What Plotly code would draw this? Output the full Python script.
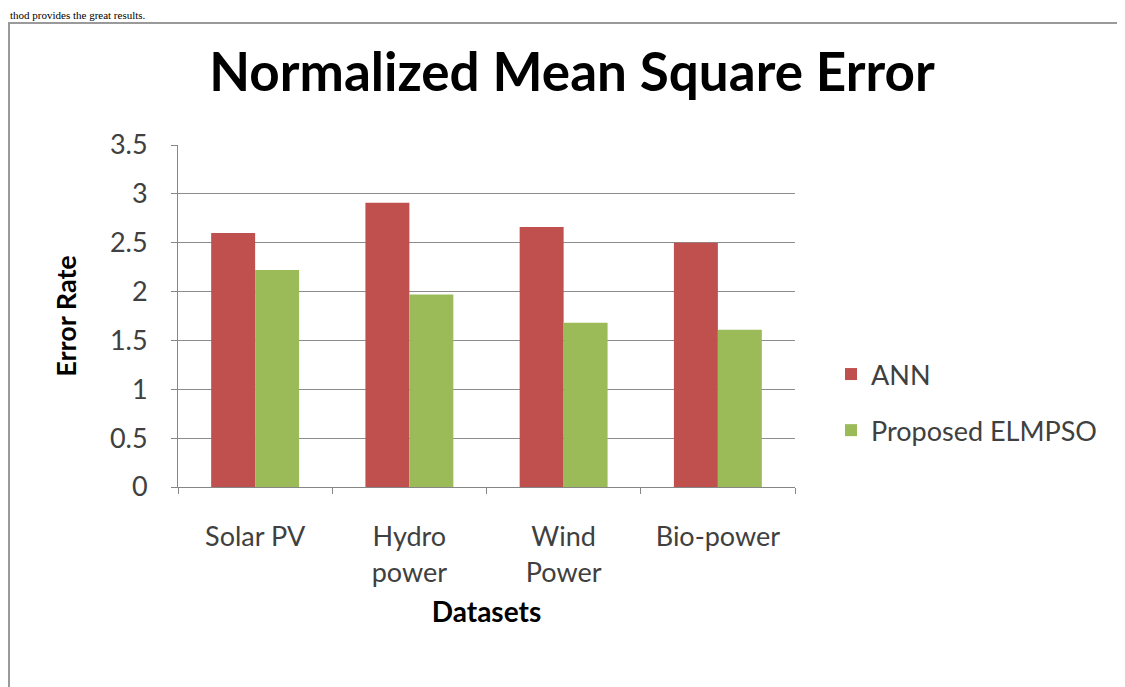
import plotly.graph_objects as go

categories = ["Solar PV", "Hydro<br>power", "Wind<br>Power", "Bio-power"]
ann_values = [2.60, 2.91, 2.66, 2.50]
elmpso_values = [2.22, 1.97, 1.68, 1.61]
series_names = ["ANN", "Proposed ELMPSO"]
y_ticks = [0, 0.5, 1, 1.5, 2, 2.5, 3, 3.5]
y_tick_labels = ["0", "0.5", "1", "1.5", "2", "2.5", "3", "3.5"]

FONT = "Lato"
OFF = 8  # page body margin offset
W, H = 1125 - OFF, 687 - OFF
L, R, T, B = 170, 330, 137, 200
pw, ph = W - L - R, H - T - B

def px_x(sx):
    return (sx - OFF - L) / pw

def px_y(sy):
    return (H - B - (sy - OFF)) / ph

fig = go.Figure()
fig.add_trace(go.Bar(x=categories, y=ann_values, name=series_names[0],
                     marker=dict(color="#C0504D", line=dict(width=0)), legendgroup="a"))
fig.add_trace(go.Bar(x=categories, y=elmpso_values, name=series_names[1],
                     marker=dict(color="#9BBB59", line=dict(width=0)), legendgroup="b"))

fig.update_layout(
    width=W, height=H,
    margin=dict(l=L, r=R, t=T, b=B, autoexpand=False),
    paper_bgcolor="white", plot_bgcolor="white",
    barmode="group", bargap=0.43, bargroupgap=0,
    font=dict(family=FONT, size=27, color="#404040"),
    title=dict(text="<b>Normalized Mean Square Error</b>", x=(572 - OFF) / W, xanchor="center",
               y=1 - (72 - OFF) / H, yanchor="middle",
               font=dict(family=FONT, size=53, color="#000000")),
    legend=dict(x=px_x(831), y=px_y(402.5), xanchor="left", yanchor="middle",
                font=dict(family=FONT, size=27, color="#404040"),
                tracegroupgap=18, bgcolor="rgba(0,0,0,0)"),
    xaxis=dict(
        type="category", showline=True, linecolor="#868686", linewidth=1,
        ticks="outside", tickson="boundaries", ticklen=6, tickcolor="#868686",
        ticklabelstandoff=26, showgrid=False,
        title=dict(text="<b>Datasets</b>", standoff=15,
                   font=dict(family=FONT, size=28, color="#000000")),
    ),
    yaxis=dict(
        range=[0, 3.5], tickvals=y_ticks, ticktext=y_tick_labels,
        showline=True, linecolor="#868686", linewidth=1,
        ticks="outside", ticklen=6, tickcolor="#868686",
        showgrid=True, gridcolor="#8c8c8c", gridwidth=1, zeroline=False,
        ticklabelstandoff=18,
        title=dict(text="<b>Error Rate</b>", standoff=25,
                   font=dict(family=FONT, size=27, color="#000000")),
    ),
    shapes=[dict(type="rect", xref="paper", yref="paper",
                 x0=px_x(9), x1=px_x(1140), y0=px_y(23), y1=px_y(720),
                 line=dict(color="#9a9a9a", width=2), fillcolor="rgba(0,0,0,0)", layer="below")],
    annotations=[dict(text="thod provides the great results.", xref="paper", yref="paper",
                      x=px_x(9), y=px_y(8), xanchor="left", yanchor="top", showarrow=False,
                      borderpad=0,
                      font=dict(family="Liberation Serif", size=11, color="#000000"))],
)

fig.write_html("out.html")
